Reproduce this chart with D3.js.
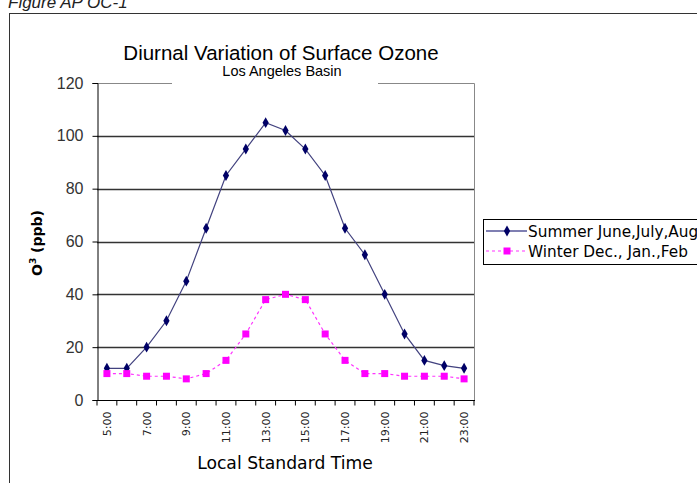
<!DOCTYPE html>
<html><head><meta charset="utf-8">
<script src="https://cdn.jsdelivr.net/npm/d3@7"></script>
<style>body{margin:0;background:#fff;} svg{display:block;}</style>
</head><body>
<svg id="c" width="697" height="483"></svg>
<script>
const hours = ["5:00","6:00","7:00","8:00","9:00","10:00","11:00","12:00","13:00","14:00","15:00","16:00","17:00","18:00","19:00","20:00","21:00","22:00","23:00"];
const tickLabels = ["5:00","7:00","9:00","11:00","13:00","15:00","17:00","19:00","21:00","23:00"];
const summer = [12,12,20,30,45,65,85,95,105,102,95,85,65,55,40,25,15,13,12];
const winter = [10,10,9,9,8,10,15,25,38,40,38,25,15,10,10,9,9,9,8];
const yTicks = [0,20,40,60,80,100,120];
const seriesNames = ["Summer June,July,Aug","Winter Dec., Jan.,Feb"];

const svg = d3.select("#c");
const L=97, R=474, T=83, B=400;
const x = d3.scaleBand().domain(hours).range([L,R]).padding(0);
const y = d3.scaleLinear().domain([0,120]).range([B,T]);

// caption
svg.append("text").attr("x",8).attr("y",8).attr("font-family","Liberation Sans, Arial").attr("font-style","italic")
  .attr("font-size",17).attr("fill","#222").text("Figure AP OC-1");
// frame
svg.append("rect").attr("x",9.5).attr("y",13.5).attr("width",700).attr("height",500)
  .attr("fill","none").attr("stroke","#333").attr("stroke-width",1);

// gridlines
svg.append("g").selectAll("line").data(yTicks.filter(d=>d>0 && d<120)).join("line")
  .attr("x1",L).attr("x2",R).attr("y1",d=>Math.round(y(d))+0.5).attr("y2",d=>Math.round(y(d))+0.5)
  .attr("stroke","#333").attr("stroke-width",1.3);
// plot border
svg.append("path").attr("d",`M${L},${T+0.5}H${R+0.5}V${B}`).attr("fill","none").attr("stroke","#888").attr("stroke-width",1);

// y axis
const ya = svg.append("g").attr("transform",`translate(${L+0.5},0)`)
  .call(d3.axisLeft(y).tickValues(yTicks).tickSize(5).tickPadding(9));
ya.select(".domain").attr("stroke","#000");
ya.selectAll(".tick line").attr("stroke","#000");
ya.selectAll("text").attr("font-family","Liberation Sans, Arial").attr("font-size",16).attr("fill","#333");

// x axis
const xa = svg.append("g").attr("transform",`translate(0,${B+0.5})`);
xa.append("line").attr("x1",L).attr("x2",R+1).attr("stroke","#000");
xa.selectAll("line.t").data(hours.concat(["end"])).join("line").attr("class","t")
  .attr("x1",d=>d==="end"?R:x(d)).attr("x2",d=>d==="end"?R:x(d)).attr("y1",0).attr("y2",5).attr("stroke","#000");
xa.selectAll("text").data(tickLabels).join("text")
  .attr("transform",d=>`translate(${x(d)+x.bandwidth()/2+4},11) rotate(-90)`)
  .attr("text-anchor","end").attr("font-family","DejaVu Sans, Verdana").attr("font-size",11).attr("fill","#222").text(d=>d);

// titles
const title = svg.append("g");
title.append("rect").attr("x",172).attr("y",40).attr("width",206).attr("height",48).attr("fill","#fff");
title.append("text").attr("x",281).attr("y",60).attr("text-anchor","middle").attr("font-family","Liberation Sans, Arial")
  .attr("font-size",20.5).attr("fill","#000").text("Diurnal Variation of Surface Ozone");
title.append("text").attr("x",282).attr("y",76).attr("text-anchor","middle").attr("font-family","Liberation Sans, Arial")
  .attr("font-size",14.5).attr("fill","#000").text("Los Angeles Basin");
svg.append("text").attr("x",285).attr("y",469).attr("text-anchor","middle").attr("font-family","DejaVu Sans, Verdana")
  .attr("font-size",17.2).attr("fill","#000").text("Local Standard Time");
const yt = svg.append("text").attr("transform","translate(42,243) rotate(-90)").attr("text-anchor","middle")
  .attr("font-family","DejaVu Sans, Verdana").attr("font-size",14).attr("font-weight","bold").attr("fill","#000");
yt.append("tspan").text("O");
yt.append("tspan").attr("font-size",9).attr("dy",-6).text("3");
yt.append("tspan").attr("dy",6).text(" (ppb)");

const cx = d=>x(d)+x.bandwidth()/2;
const line = d3.line().x((d,i)=>cx(hours[i])).y(d=>y(d));
svg.append("path").datum(summer).attr("d",line).attr("fill","none").attr("stroke","#42427f").attr("stroke-width",1.2);
svg.append("path").datum(winter).attr("d",line).attr("fill","none").attr("stroke","#ff33ff").attr("stroke-width",1.2).attr("stroke-dasharray","3,3");
const diamond = d3.symbol().type(d3.symbolDiamond).size(34);
svg.append("g").selectAll("path").data(summer).join("path")
  .attr("transform",(d,i)=>`translate(${cx(hours[i])},${y(d)})`).attr("d",diamond).attr("fill","#000066");
svg.append("g").selectAll("rect").data(winter).join("rect")
  .attr("x",(d,i)=>cx(hours[i])-3.5).attr("y",d=>y(d)-3.5).attr("width",7).attr("height",7).attr("fill","#ff00ff");

// legend
const lg = svg.append("g");
lg.append("rect").attr("x",483.5).attr("y",219.5).attr("width",230).attr("height",45).attr("fill","#fff").attr("stroke","#000");
const ly = [231,251];
lg.append("line").attr("x1",486).attr("x2",527).attr("y1",ly[0]).attr("y2",ly[0]).attr("stroke","#000066").attr("stroke-width",1.2);
lg.append("path").attr("transform",`translate(507,${ly[0]})`).attr("d",diamond).attr("fill","#000066");
lg.append("line").attr("x1",486).attr("x2",527).attr("y1",ly[1]).attr("y2",ly[1]).attr("stroke","#ff33ff").attr("stroke-width",1.2).attr("stroke-dasharray","3,3");
lg.append("rect").attr("x",503.5).attr("y",ly[1]-3.5).attr("width",7).attr("height",7).attr("fill","#ff00ff");
lg.selectAll("text").data(seriesNames).join("text").attr("x",528).attr("y",(d,i)=>ly[i]+6)
  .attr("font-family","DejaVu Sans, Verdana").attr("font-size",15.3).attr("fill","#000").text(d=>d);
</script>
</body></html>
